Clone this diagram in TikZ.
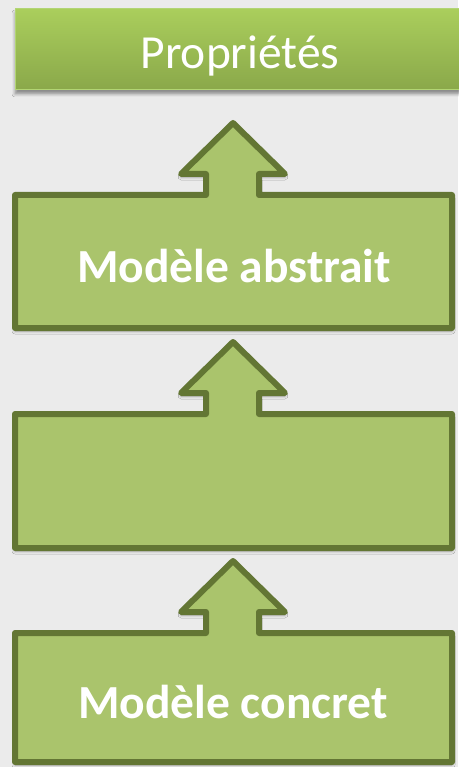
\documentclass[tikz,border=0pt]{standalone}
\usepackage{fontspec}
\setmainfont{Carlito}
\usetikzlibrary{shadows.blur}

\definecolor{pagebg}{HTML}{EBEBEB}
\definecolor{leaf}{HTML}{AAC46C}
\definecolor{olive}{HTML}{637634}
\definecolor{bandtop}{HTML}{AACE5C}
\definecolor{bandbot}{HTML}{8AA84A}
\definecolor{bandedge}{HTML}{B2D574}

\tikzset{
  liftshape/.style={fill=leaf, draw=olive, line width=6pt, line join=round,
    blur shadow={shadow xshift=0pt, shadow yshift=-3pt, shadow blur radius=3pt, shadow opacity=35}},
  bandshape/.style={top color=bandtop, bottom color=bandbot, draw=bandedge, line width=1pt,
    blur shadow={shadow xshift=0pt, shadow yshift=-4pt, shadow blur radius=3pt, shadow opacity=40}},
  whitetext/.style={text=white, anchor=base, inner sep=0pt, font=\fontsize{47.5}{56}\selectfont},
  boldtext/.style={whitetext, font=\fontsize{47.5}{56}\selectfont\bfseries}
}

% box with an upward arrow on top: #1 = top edge, #2 = bottom edge
\newcommand\liftbox[2]{%
  \draw[liftshape] (15,#1) -- (206,#1) -- (206,#1-21) -- (181,#1-21) -- (233,#1-72)
    -- (285,#1-21) -- (259,#1-21) -- (259,#1) -- (452,#1) -- (452,#2) -- (15,#2) -- cycle;}

\begin{document}
\begin{tikzpicture}[x=1pt, y=-1pt]
  \fill[pagebg] (0,0) rectangle (458,767);
  \useasboundingbox (0,0) rectangle (458,767);

  % top band
  \draw[bandshape] (15,9) rectangle (470,90);
  \node[whitetext] (props) at (240,69) {Propriétés};

  % the three stacked levels
  \liftbox{195}{328}
  \node[boldtext] (abstrait) at (234,282) {Modèle abstrait};

  \liftbox{414}{548}
  \coordinate (milieu) at (233,481);

  \liftbox{633}{762}
  \node[boldtext] (concret) at (233,718) {Modèle concret};
\end{tikzpicture}
\end{document}
